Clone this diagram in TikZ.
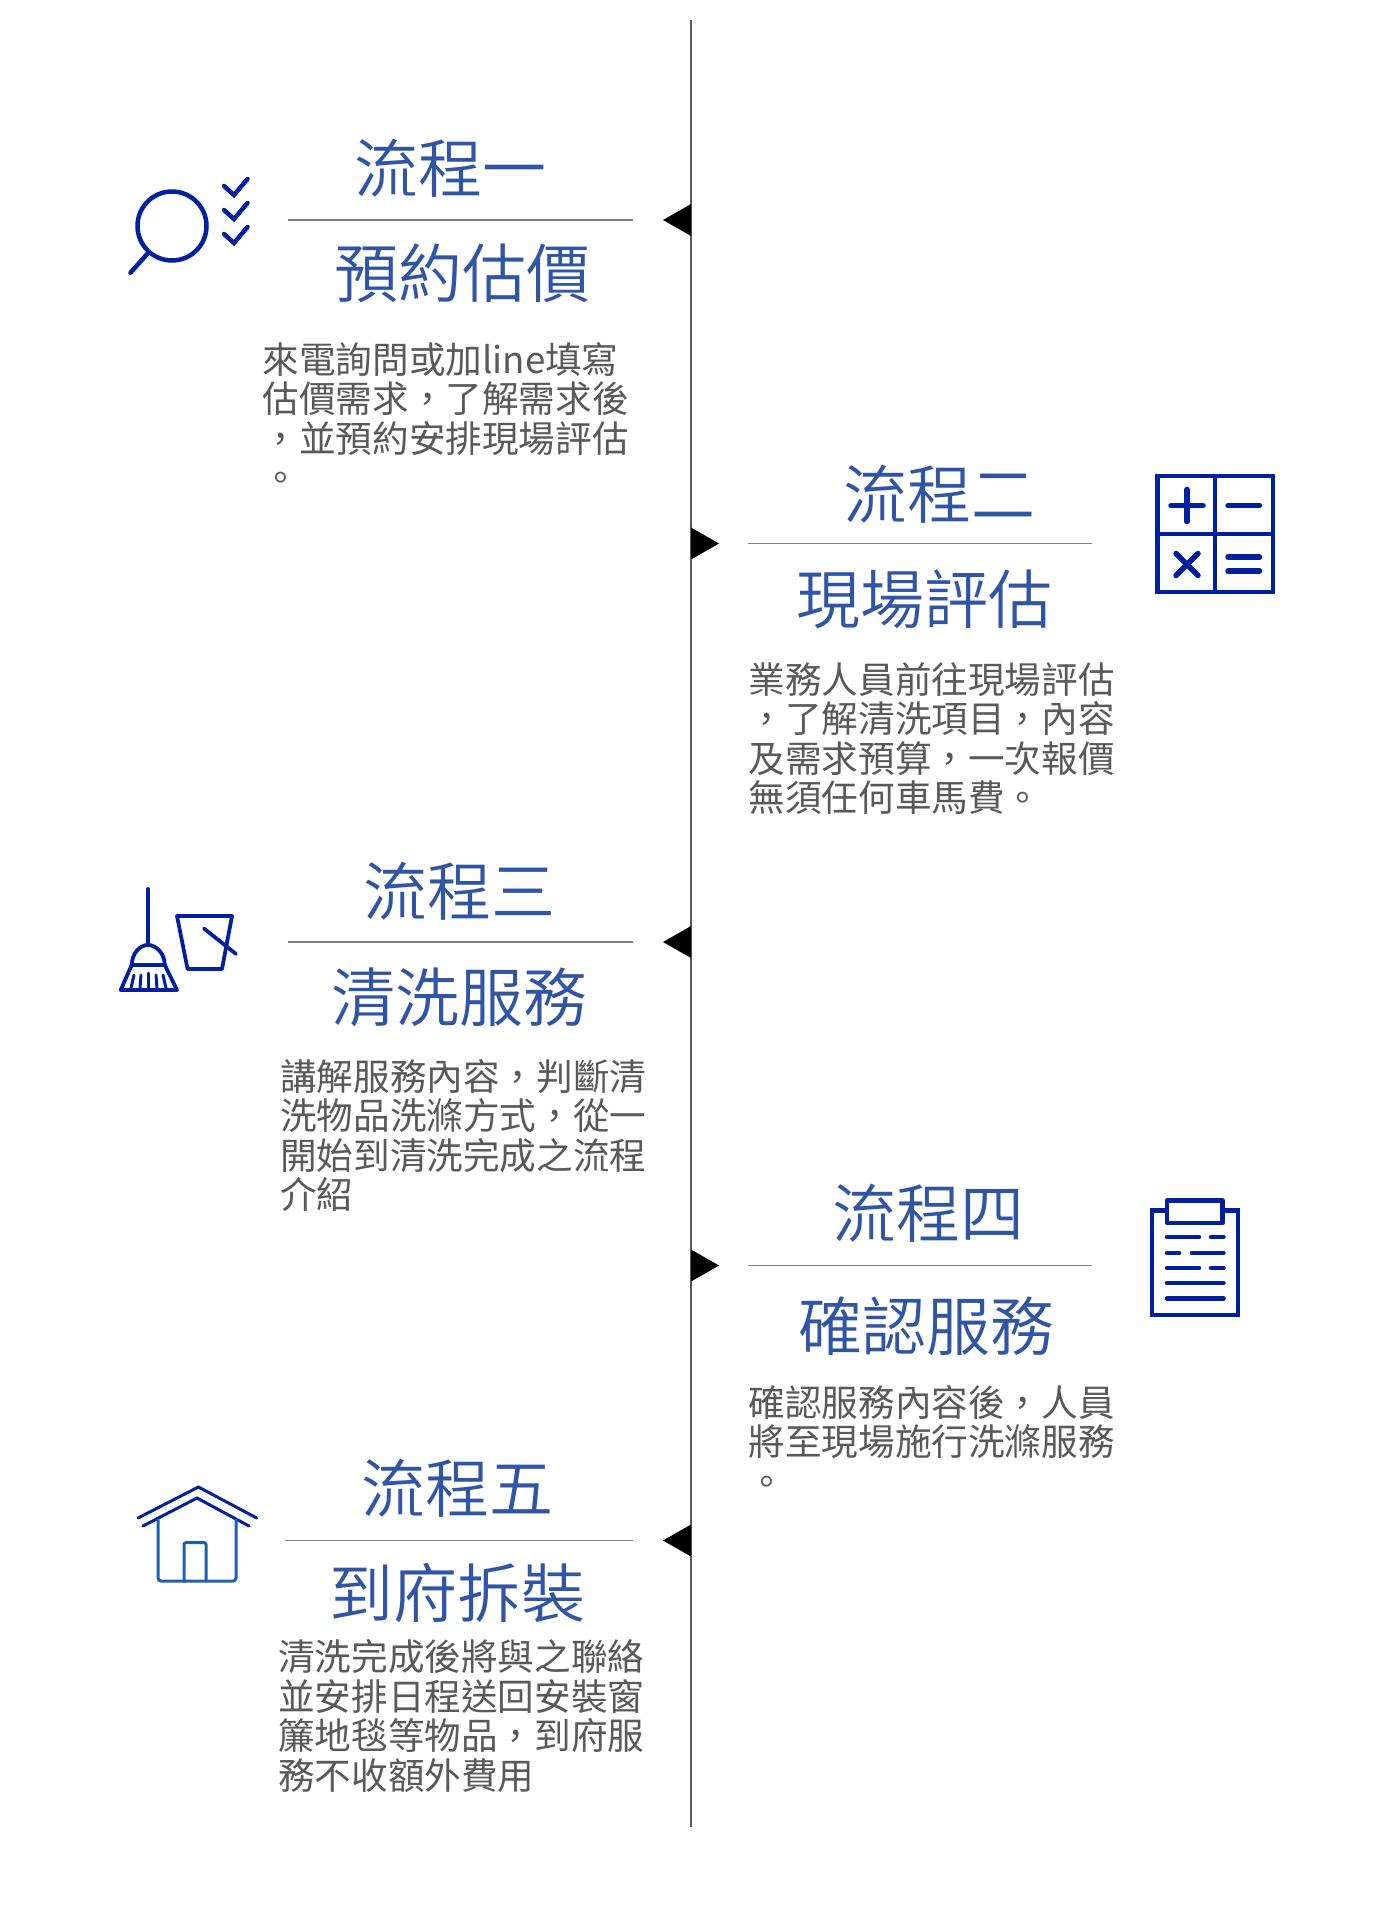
\documentclass[tikz,border=0pt]{standalone}
\usepackage{xcolor}
\usepackage{fontspec}
\usepackage{tikz}
\usetikzlibrary{positioning}
\newfontfamily\titlefont{Noto Sans CJK TC DemiLight}
\newfontfamily\bodyfont{Noto Sans CJK TC}
\definecolor{titleblue}{HTML}{2F55A4}
\definecolor{iconblue}{HTML}{00209F}
\definecolor{houseblue}{HTML}{1F5FB0}
\definecolor{bodygray}{HTML}{595959}
\definecolor{rulegray}{HTML}{808080}

\begin{document}
\begin{tikzpicture}[x=1pt, y=-1pt, line join=miter]
    \tikzstyle{heading}=[inner sep=0pt, text=titleblue, font=\titlefont\fontsize{64}{64}\selectfont]
    \tikzstyle{desc}=[inner sep=0pt, anchor=north west, align=left, text=bodygray, font=\bodyfont\fontsize{36.6}{39.5}\selectfont]
    \tikzstyle{rule}=[draw=rulegray, line width=1.6pt]
    \tikzstyle{axis}=[draw=rulegray!70!black, line width=1.6pt]
    \tikzstyle{marker}=[fill=black, draw=none]
    \tikzstyle{icon}=[draw=iconblue, line width=4.5pt, line cap=round, fill=none]
    \useasboundingbox (0,0) rectangle (1397,1920);

    % --- TIMELINE ---
    \coordinate (axistop) at (691,20);
    \coordinate (axisbot) at (691,1827);
    \draw[axis] (axistop) -- (axisbot);

    % --- STEP 1 (left) ---
    \node[heading] (title1) at (450,168.5) {流程一};
    \node[heading] (name1) at (462,273) {預約估價};
    \node[desc] (desc1) at (262.5,342) {來電詢問或加line填寫\\估價需求，了解需求後\\，並預約安排現場評估\\。};
    \coordinate (rule1a) at (288,220);
    \coordinate (rule1b) at (633,220);
    \draw[rule] (rule1a) -- (rule1b);
    \coordinate (mark1) at (691,220);
    \path[marker, fill] (mark1) ++(0,-16) -- ++(-28,16) -- ++(28,16) -- cycle;

    % --- STEP 2 (right) ---
    \node[heading] (title2) at (939,494.5) {流程二};
    \node[heading] (name2) at (924,599) {現場評估};
    \node[desc] (desc2) at (748.5,662) {業務人員前往現場評估\\，了解清洗項目，內容\\及需求預算，一次報價\\無須任何車馬費。};
    \coordinate (rule2a) at (748,543.5);
    \coordinate (rule2b) at (1092,543.5);
    \draw[rule] (rule2a) -- (rule2b);
    \coordinate (mark2) at (691,543.5);
    \path[marker, fill] (mark2) ++(0,-16) -- ++(28,16) -- ++(-28,16) -- cycle;

    % --- STEP 3 (left) ---
    \node[heading] (title3) at (459,891.5) {流程三};
    \node[heading] (name3) at (459,997) {清洗服務};
    \node[desc] (desc3) at (280,1059) {講解服務內容，判斷清\\洗物品洗滌方式，從一\\開始到清洗完成之流程\\介紹};
    \coordinate (rule3a) at (288,942);
    \coordinate (rule3b) at (633,942);
    \draw[rule] (rule3a) -- (rule3b);
    \coordinate (mark3) at (691,942);
    \path[marker, fill] (mark3) ++(0,-16) -- ++(-28,16) -- ++(28,16) -- cycle;

    % --- STEP 4 (right) ---
    \node[heading] (title4) at (928,1213) {流程四};
    \node[heading] (name4) at (926,1326) {確認服務};
    \node[desc] (desc4) at (748.5,1385) {確認服務內容後，人員\\將至現場施行洗滌服務\\。};
    \coordinate (rule4a) at (748,1265.5);
    \coordinate (rule4b) at (1092,1265.5);
    \draw[rule] (rule4a) -- (rule4b);
    \coordinate (mark4) at (691,1265.5);
    \path[marker, fill] (mark4) ++(0,-16) -- ++(28,16) -- ++(-28,16) -- cycle;

    % --- STEP 5 (left) ---
    \node[heading] (title5) at (457,1488) {流程五};
    \node[heading] (name5) at (457,1593) {到府拆裝};
    \node[desc] (desc5) at (278,1639.5) {清洗完成後將與之聯絡\\並安排日程送回安裝窗\\簾地毯等物品，到府服\\務不收額外費用};
    \coordinate (rule5a) at (285,1540.5);
    \coordinate (rule5b) at (633,1540.5);
    \draw[rule] (rule5a) -- (rule5b);
    \coordinate (mark5) at (691,1540.5);
    \path[marker, fill] (mark5) ++(0,-16) -- ++(-28,16) -- ++(28,16) -- cycle;

    % --- ICONS ---
    % Magnifier and ticks
    \draw[icon] (172,226) circle (34.5);
    \draw[icon] (147.5,253.6) -- (130.5,272.7);
    \draw[icon] (224,186) -- (234,195) -- (247.5,179);
    \draw[icon] (224,210) -- (234,219) -- (247.5,203);
    \draw[icon] (224,234) -- (234,243) -- (247.5,227);

    % Calculator
    \draw[icon, line cap=butt] (1157.5,476) rectangle (1273,592);
    \draw[icon, line cap=butt] (1215,476) -- (1215,592);
    \draw[icon, line cap=butt] (1157.5,534) -- (1273,534);
    \draw[icon, line width=5.5pt] (1171,505.5) -- (1203,505.5);
    \draw[icon, line width=5.5pt] (1187,489.5) -- (1187,521.5);
    \draw[icon, line width=5.5pt] (1228,505.5) -- (1259.5,505.5);
    \draw[icon, line width=5.5pt] (1176,553.5) -- (1198,575.5);
    \draw[icon, line width=5.5pt] (1198,553.5) -- (1176,575.5);
    \draw[icon, line width=5.5pt] (1228,557) -- (1259.5,557);
    \draw[icon, line width=5.5pt] (1228,571) -- (1259.5,571);

    % Broom and bucket
    \draw[icon, line width=3.8pt] (148,889) -- (148,945);
    \draw[icon, line width=3.8pt] (131.7,965) .. controls (132,953) and (140,945) .. (148,945)
        .. controls (156,945) and (164.5,953) .. (164.8,965);
    \draw[icon, line width=3.8pt, line join=round] (131.7,965) -- (120.7,990) -- (177,990) -- (164.8,965) -- cycle;
    \draw[icon, line width=3pt] (134,975) -- (131,988);
    \draw[icon, line width=3pt] (141,975) -- (140,988);
    \draw[icon, line width=3pt] (148.5,973) -- (148.5,988);
    \draw[icon, line width=3pt] (156,975) -- (157,988);
    \draw[icon, line width=3pt] (163,975) -- (166,988);
    \draw[icon, line width=3.8pt, line join=round] (177,916) -- (232,916) -- (222,969) -- (187.6,969) -- cycle;
    \draw[icon, line width=3.8pt] (204,928.5) -- (236,954);

    % Clipboard
    \draw[icon, line cap=butt] (1152,1210.5) rectangle (1238,1315);
    \draw[icon, fill=white, line join=round] (1167,1200.5) rectangle (1222.5,1223);
    \draw[icon] (1167,1237) -- (1199,1237);
    \draw[icon] (1211,1237) -- (1223.5,1237);
    \draw[icon] (1167,1253) -- (1179,1253);
    \draw[icon] (1192,1253) -- (1223.5,1253);
    \draw[icon] (1167,1268) -- (1199,1268);
    \draw[icon] (1211,1268) -- (1223.5,1268);
    \draw[icon] (1167,1283) -- (1223.5,1283);
    \draw[icon] (1167,1298.5) -- (1223.5,1298.5);

    % House
    \draw[icon, line width=3pt] (138,1518) -- (198.4,1487) -- (256.7,1518);
    \draw[icon, line width=3pt] (143,1526) -- (197,1498) -- (249,1526);
    \draw[icon, draw=houseblue, line width=3pt, rounded corners=3pt] (158,1519.5) -- (158,1581) -- (236,1581) -- (236,1519.5);
    \draw[icon, draw=houseblue, line width=3pt, rounded corners=2pt] (184,1581) -- (184,1542.6) -- (206,1542.6) -- (206,1581);

\end{tikzpicture}
\end{document}
